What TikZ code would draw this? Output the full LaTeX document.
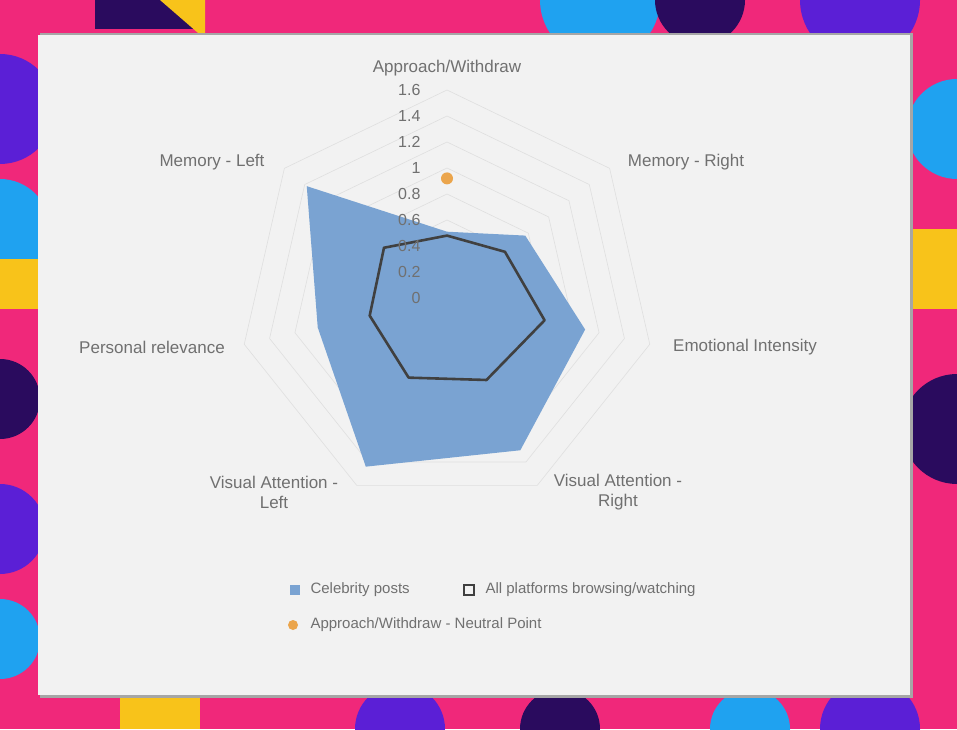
\documentclass[tikz,border=0pt]{standalone}
\usepackage{fontspec}
\setmainfont{Liberation Sans}
\definecolor{bgpink}{HTML}{F0287A}
\definecolor{bgpurple}{HTML}{5B1FD6}
\definecolor{bgnavy}{HTML}{2A0B5E}
\definecolor{bgblue}{HTML}{1FA2F0}
\definecolor{bgyellow}{HTML}{F8C31A}
\definecolor{cardgray}{HTML}{F2F2F2}
\definecolor{celebblue}{HTML}{7AA3D2}
\definecolor{neutralorange}{HTML}{EBA54C}
\definecolor{labelgray}{HTML}{707070}
\tikzset{
  ring/.style={draw=gray!25,line width=0.6pt},
  axislabel/.style={text=labelgray,font=\fontsize{17}{20}\selectfont,align=center},
  ticklabel/.style={text=labelgray,font=\fontsize{16}{16}\selectfont,anchor=east},
  legendtext/.style={text=labelgray,font=\fontsize{15}{16}\selectfont,anchor=west}
}
\begin{document}
\begin{tikzpicture}[x=1pt,y=1pt]
  \useasboundingbox (0,0) rectangle (957,729);
  % background pattern
  \begin{scope}
    \clip (0,0) rectangle (957,729);
    \fill[bgpink] (0,0) rectangle (957,729);
    \fill[bgnavy] (95,729) rectangle (205,700);
    \fill[bgyellow] (205,729) -- (160,729) -- (205,690) -- cycle;
    \fill[bgblue] (600,729) circle (60);
    \fill[bgnavy] (700,729) circle (45);
    \fill[bgpurple] (860,729) circle (60);
    \fill[bgyellow] (957,420) rectangle (910,500);
    \fill[bgnavy] (957,300) circle (55);
    \fill[bgblue] (957,600) circle (50);
    \fill[bgpurple] (0,620) circle (55);
    \fill[bgblue] (0,500) circle (50);
    \fill[bgyellow] (0,420) rectangle (38,470);
    \fill[bgnavy] (0,330) circle (40);
    \fill[bgpurple] (0,200) circle (45);
    \fill[bgblue] (0,90) circle (40);
    \fill[bgpurple] (400,0) circle (45);
    \fill[bgyellow] (120,0) rectangle (200,34);
    \fill[bgnavy] (560,0) circle (40);
    \fill[bgblue] (750,0) circle (40);
    \fill[bgpurple] (870,0) circle (50);
  \end{scope}
  % card
  \fill[black!35] (40,31) rectangle (913,696);
  \fill[cardgray] (38,34) rectangle (910,694);
  % radar
  \begin{scope}[shift={(447,431)}]
    \foreach \r in {0.2,0.4,...,1.61}
      \draw[ring] (90:\r*130)
        \foreach \k in {1,...,6} { -- ({90-\k*360/7}:\r*130) } -- cycle;
    \fill[celebblue] (90:0.51*130) -- (38.57:0.77*130) -- (-12.86:1.09*130)
      -- (-64.29:1.3*130) -- (-115.71:1.44*130) -- (-167.14:1.02*130)
      -- (141.43:1.38*130) -- cycle;
    \draw[black!75,line width=2.6pt,line join=round] (90:0.48*130) -- (38.57:0.57*130)
      -- (-12.86:0.77*130) -- (-64.29:0.7*130) -- (-115.71:0.68*130)
      -- (-167.14:0.61*130) -- (141.43:0.62*130) -- cycle;
    \fill[neutralorange] (90:0.92*130) circle (6);
    \foreach \v/\t in {0/0,0.2/0.2,0.4/0.4,0.6/0.6,0.8/0.8,1/1,1.2/1.2,1.4/1.4,1.6/1.6}
      \node[ticklabel] (tick\t) at (-23,\v*130) {\t};
    \node[axislabel] (approach) at (0,230) {Approach/Withdraw};
    \node[axislabel] (memright) at (239,136) {Memory - Right};
    \node[axislabel] (emotional) at (298,-49) {Emotional Intensity};
    \node[axislabel] (varight) at (171,-194) {Visual Attention -\\Right};
    \node[axislabel] (valeft) at (-173,-194) {Visual Attention -\\Left};
    \node[axislabel] (personal) at (-295,-49) {Personal relevance};
    \node[axislabel] (memleft) at (-235,136) {Memory - Left};
  \end{scope}
  % legend
  \fill[celebblue] (290,134) rectangle (300,144);
  \node[legendtext] (celebleg) at (307,139) {Celebrity posts};
  \draw[black!75,line width=1.8pt] (464,134) rectangle (474,144);
  \node[legendtext] (allleg) at (482,139) {All platforms browsing/watching};
  \fill[neutralorange] (293,104) circle (5);
  \node[legendtext] (neutralleg) at (307,104) {Approach/Withdraw - Neutral Point};
\end{tikzpicture}
\end{document}
